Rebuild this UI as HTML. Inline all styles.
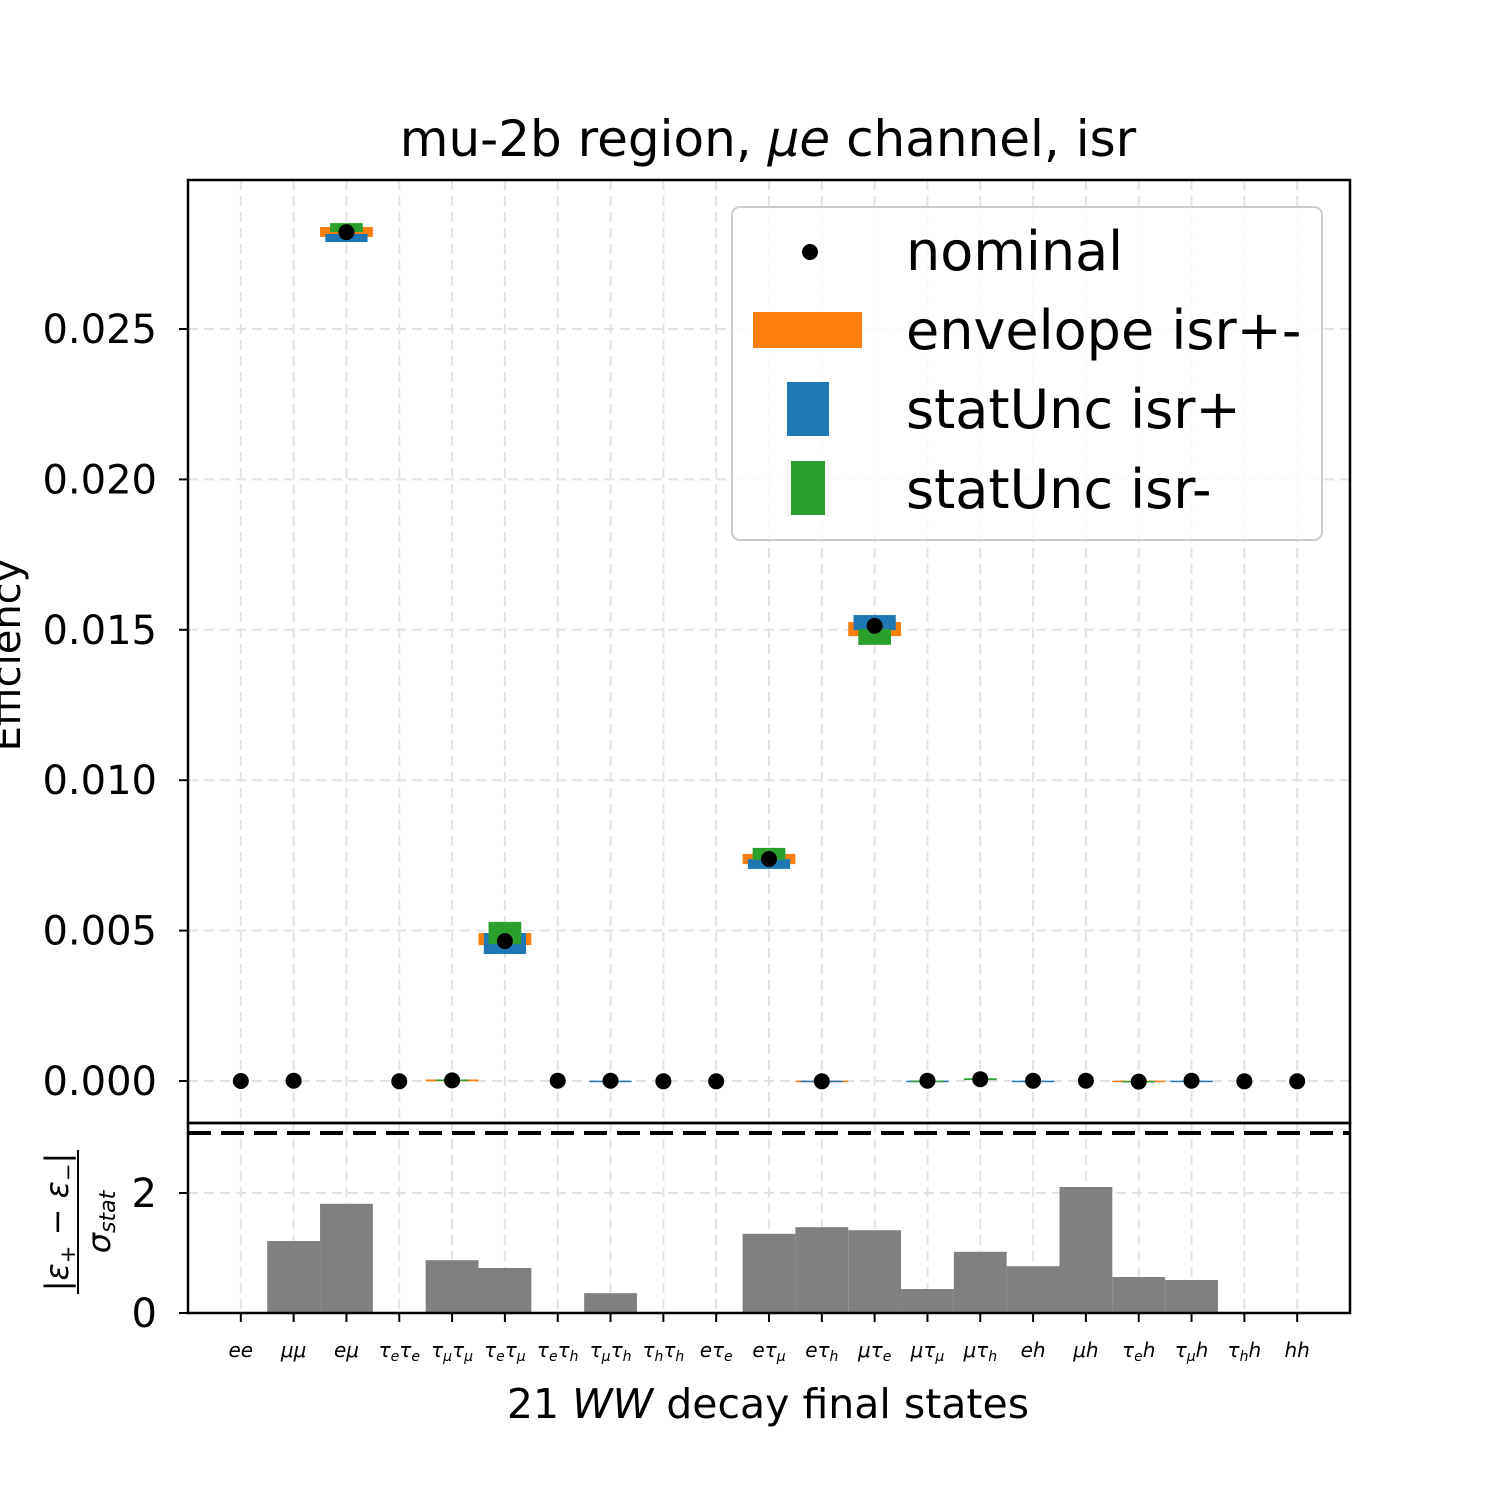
<!DOCTYPE html>
<html><head><meta charset="utf-8">
<style>
html,body{margin:0;padding:0;background:#fff;}
svg text{font-family:"DejaVu Sans","Liberation Sans",sans-serif;fill:#000;}
</style></head>
<body>
<svg id="chart" width="1500" height="1500" viewBox="0 0 1500 1500" xmlns="http://www.w3.org/2000/svg">
<rect x="0" y="0" width="1500" height="1500" fill="#fff"/>
<g id="grid"></g>
<g id="marks"></g>
<g id="axes"></g>
<text x="768" y="156" font-size="50" text-anchor="middle">mu-2b region, <tspan font-style="italic">μe</tspan> channel, isr</text>
<text transform="translate(20,655) rotate(-90)" font-size="40" text-anchor="middle">Efficiency</text>
<text x="768" y="1418" font-size="41" text-anchor="middle">21 <tspan font-style="italic">WW</tspan> decay final states</text>
<g transform="translate(78,1222) rotate(-90)">
  <text x="0" y="-10" font-size="32" text-anchor="middle">|<tspan font-style="italic">ε</tspan><tspan font-size="21" dy="7">+</tspan><tspan dy="-7"> − </tspan><tspan font-style="italic">ε</tspan><tspan font-size="21" dy="7">−</tspan><tspan dy="-7">|</tspan></text>
  <line x1="-72" y1="0" x2="72" y2="0" stroke="#000" stroke-width="2"/>
  <text x="0" y="32" font-size="32" text-anchor="middle"><tspan font-style="italic">σ</tspan><tspan font-size="22" font-style="italic" dy="5">stat</tspan></text>
</g>
<g id="legend">
  <rect x="732" y="207" width="590" height="333" rx="8" fill="#fff" fill-opacity="0.8" stroke="#ccc" stroke-width="2"/>
  <circle cx="810" cy="252" r="8" fill="#000"/>
  <text x="906" y="270" font-size="54">nominal</text>
  <rect x="753" y="312" width="109" height="36" fill="#ff7f0e"/>
  <text x="906" y="349" font-size="54">envelope isr+-</text>
  <rect x="787" y="382" width="42" height="54" fill="#1f77b4"/>
  <text x="906" y="428" font-size="54">statUnc isr+</text>
  <rect x="791" y="461" width="34" height="54" fill="#2ca02c"/>
  <text x="906" y="508" font-size="54">statUnc isr-</text>
</g>
</svg>
<script>
const categories = ["ee","μμ","eμ","τeτe","τμτμ","τeτμ","τeτh","τμτh","τhτh","eτe","eτμ","eτh","μτe","μτμ","μτh","eh","μh","τeh","τμh","τhh","hh"];
const catLabels = [["ee",""],["μμ",""],["eμ",""],["τ","e","τ","e"],["τ","μ","τ","μ"],["τ","e","τ","μ"],["τ","e","τ","h"],["τ","μ","τ","h"],["τ","h","τ","h"],["eτ","e"],["eτ","μ"],["eτ","h"],["μτ","e"],["μτ","μ"],["μτ","h"],["eh",""],["μh",""],["τ","e","h",""],["τ","μ","h",""],["τ","h","h",""],["hh",""]];
const nominal = [0,0.00001,0.02822,-0.00001,0.00002,0.00465,0.00001,0.00001,-0.00001,-0.00001,0.00738,-0.00001,0.01513,0.00001,0.00006,0.00001,0.00001,-0.00002,0.00001,-0.00001,-0.00001];
const envLo = [0,0,0.02806,0,-0.00001,0.00452,0,0,0,0,0.00721,-0.00002,0.01479,0,0,0,0,-0.00003,0,0,0];
const envHi = [0,0,0.02839,0,0.00005,0.00492,0,0,0,0,0.00755,0.00001,0.01526,0,0,0,0,0.00001,0,0,0];
const plusLo = [0,0,0.02789,0,0,0.00422,0.00000,-0.00001,0,0,0.00705,-0.00001,0.01499,-0.00001,0,-0.00001,0,0,-0.00001,0,0];
const plusHi = [0,0,0.02816,0,0,0.00492,0.00000,0.00001,0,0,0.00738,0.00001,0.01549,0.00001,0,0.00001,0,0,0.00001,0,0];
const minusLo = [0,0,0.02822,0,0.00000,0.00455,0,0,0,0,0.00735,0,0.01450,-0.00001,0.00003,0,0,-0.00002,0,0,0];
const minusHi = [0,0,0.02852,0,0.00005,0.00529,0,0,0,0,0.00775,0,0.01503,0.00001,0.00009,0,0,0.00000,0,0,0];
const ratio = [0,1.2,1.82,0,0.88,0.75,0,0.33,0,0,1.32,1.43,1.38,0.4,1.02,0.78,2.1,0.6,0.55,0,0];
const yTicks = [0,0.005,0.010,0.015,0.020,0.025];
const yTickLabels = ["0.000","0.005","0.010","0.015","0.020","0.025"];
const rTicks = [0,2];

const NS="http://www.w3.org/2000/svg";
const AX={l:188,r:1350,t:180,b:1123};
const RX={t:1123,b:1313};
const xS=i=>AX.l+(i+1)*(AX.r-AX.l)/22;
const cw=(AX.r-AX.l)/22;
const yS=v=>1081-v/0.005*150.4;
const rS=v=>RX.b-v*60;
function el(tag,attrs,parent){const e=document.createElementNS(NS,tag);for(const k in attrs)e.setAttribute(k,attrs[k]);parent.appendChild(e);return e;}
const grid=document.getElementById('grid'),marks=document.getElementById('marks'),axes=document.getElementById('axes');
const gs={stroke:"#e3e3e3","stroke-width":2,"stroke-dasharray":"10,6"};
categories.forEach((c,i)=>{
  let g=el('line',Object.assign({x1:xS(i),x2:xS(i),y1:AX.t,y2:AX.b},gs),grid);
  
  
  let g2=el('line',Object.assign({x1:xS(i),x2:xS(i),y1:RX.t,y2:RX.b},gs),grid);
  
  
});
yTicks.forEach((v,i)=>{
  let g=el('line',Object.assign({x1:AX.l,x2:AX.r,y1:yS(v),y2:yS(v)},gs),grid);
  
  
  el('line',{x1:AX.l-9,x2:AX.l,y1:yS(v),y2:yS(v),stroke:"#000","stroke-width":2},axes);
  let t=el('text',{x:AX.l-31,y:yS(v)+14,"font-size":40,"text-anchor":"end"},axes);
  t.textContent=yTickLabels[i];
  
  
});
rTicks.forEach(v=>{
  let g=el('line',Object.assign({x1:AX.l,x2:AX.r,y1:rS(v),y2:rS(v)},gs),grid);
  
  
  el('line',{x1:AX.l-9,x2:AX.l,y1:rS(v),y2:rS(v),stroke:"#000","stroke-width":2},axes);
  let t=el('text',{x:AX.l-31,y:rS(v)+14,"font-size":40,"text-anchor":"end"},axes);
  t.textContent=String(v);
  
  
});
function box(i,lo,hi,wf,color,name){
  if(hi===lo)return;
  const y1=yS(hi),y2=yS(lo);
  let h=Math.max(y2-y1,1.5);
  let r=el('rect',{x:xS(i)-cw*wf/2,y:y1,width:cw*wf,height:h,fill:color},marks);
  
  
}
categories.forEach((c,i)=>{
  box(i,envLo[i],envHi[i],1.0,"#ff7f0e","envelope-box");
  box(i,plusLo[i],plusHi[i],0.8,"#1f77b4","stat-plus-box");
  box(i,minusLo[i],minusHi[i],0.62,"#2ca02c","stat-minus-box");
});
categories.forEach((c,i)=>{
  let d=el('circle',{cx:xS(i),cy:yS(nominal[i]),r:8,fill:"#000"},marks);
  
  
});
ratio.forEach((v,i)=>{
  if(v<=0)return;
  let b=el('rect',{x:xS(i)-cw/2,y:rS(v),width:cw,height:rS(0)-rS(v),fill:"#808080"},marks);
  
  
});
let dl=el('line',{x1:AX.l,x2:AX.r,y1:1133,y2:1133,stroke:"#000","stroke-width":4,"stroke-dasharray":"23,10"},marks);


let f1=el('rect',{x:AX.l,y:AX.t,width:AX.r-AX.l,height:AX.b-AX.t,fill:"none",stroke:"#000","stroke-width":2.5},axes);


let f2=el('rect',{x:AX.l,y:RX.t,width:AX.r-AX.l,height:RX.b-RX.t,fill:"none",stroke:"#000","stroke-width":2.5},axes);


catLabels.forEach((p,i)=>{
  el('line',{x1:xS(i),x2:xS(i),y1:RX.b,y2:RX.b+9,stroke:"#000","stroke-width":2},axes);
  let t=el('text',{x:xS(i),y:1357,"font-size":20,"font-style":"italic","text-anchor":"middle"},axes);
  
  
  for(let k=0;k<p.length;k+=2){
    if(p[k]!==""){const s=document.createElementNS(NS,'tspan');s.textContent=p[k];if(k>0)s.setAttribute('dy','-4');t.appendChild(s);}
    if(p[k+1]){const s=document.createElementNS(NS,'tspan');s.textContent=p[k+1];s.setAttribute('font-size','14');s.setAttribute('dy','4');t.appendChild(s);}
  }
});
</script>
</body></html>
